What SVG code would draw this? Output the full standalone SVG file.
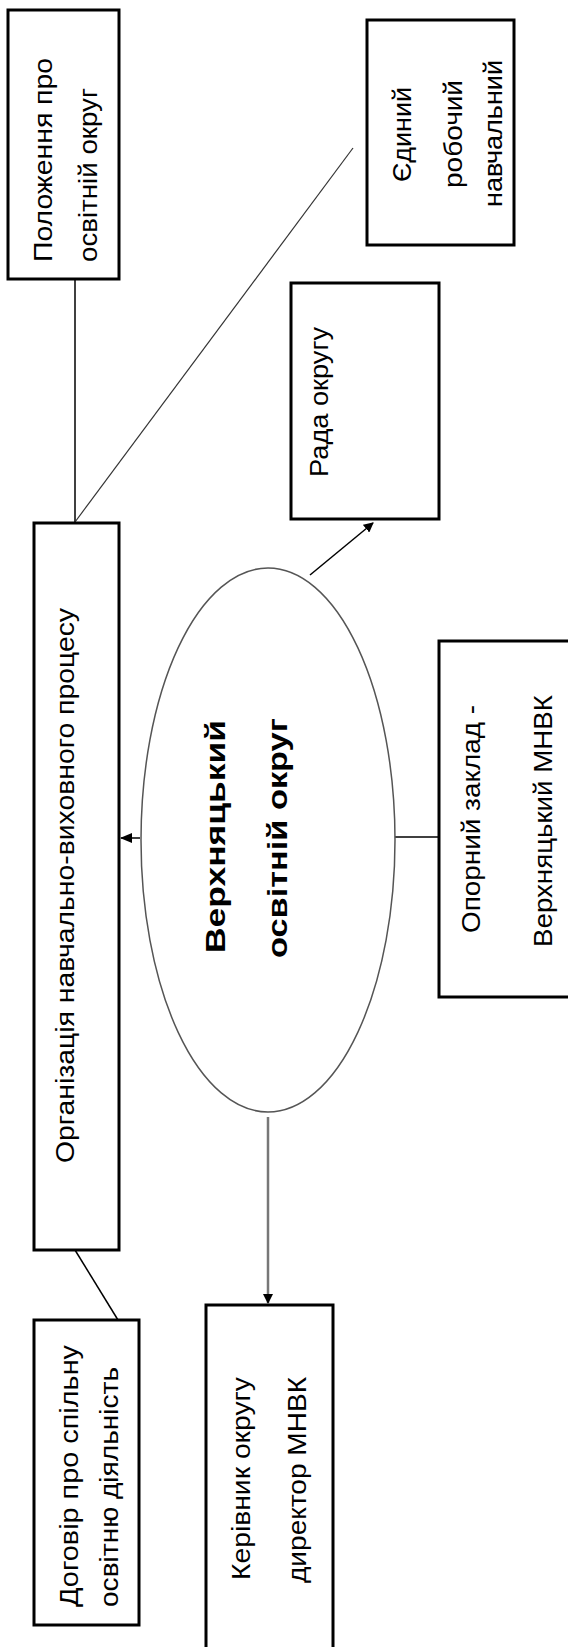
<svg xmlns="http://www.w3.org/2000/svg" width="568" height="1647" viewBox="0 0 568 1647">
<style>
.box{fill:#fff;stroke:#000;stroke-width:3}
.t{font-family:"Liberation Sans",Arial,sans-serif;font-size:26px;fill:#000}
.tb{font-family:"Liberation Sans",Arial,sans-serif;font-size:28px;font-weight:bold;fill:#000}
.ln{stroke:#000;stroke-width:1.5;fill:none}
</style>
<defs>
<marker id="ah" markerWidth="10" markerHeight="10" refX="9" refY="5" orient="auto" markerUnits="userSpaceOnUse">
<path d="M0,0 L10,5 L0,10 z" fill="#000"/>
</marker>
<marker id="ahs" markerWidth="12" markerHeight="10" refX="11" refY="5" orient="auto" markerUnits="userSpaceOnUse">
<path d="M0,0 L12,5 L0,10 z" fill="#000"/>
</marker>
</defs>
<rect width="568" height="1647" fill="#fff"/>
<g id="connectors">
<line class="ln" x1="75" y1="279" x2="75" y2="523"/>
<line x1="75" y1="522" x2="353" y2="148" stroke="#333" stroke-width="1.2"/>
<line class="ln" x1="310" y1="575" x2="373" y2="523" marker-end="url(#ah)"/>
<line class="ln" x1="140" y1="838" x2="121" y2="838" marker-end="url(#ahs)"/>
<line class="ln" x1="394" y1="837" x2="462" y2="837"/>
<line x1="268" y1="1117" x2="268" y2="1303" stroke="#777" stroke-width="2.5" marker-end="url(#ah)"/>
<line class="ln" x1="75" y1="1250" x2="118" y2="1320"/>
</g>
<g id="n-polozhennya">
<rect class="box" x="8" y="10" width="111" height="269"/>
<text class="t" transform="translate(52,262) rotate(-90)" textLength="204" lengthAdjust="spacingAndGlyphs">Положення про</text>
<text class="t" transform="translate(97,262) rotate(-90)" textLength="174" lengthAdjust="spacingAndGlyphs">освітній округ</text>
</g>
<g id="n-yedynyi">
<rect class="box" x="367" y="20" width="147" height="225"/>
<text class="t" transform="translate(411,182) rotate(-90)" textLength="95" lengthAdjust="spacingAndGlyphs">Єдиний</text>
<text class="t" transform="translate(462,188) rotate(-90)" textLength="108" lengthAdjust="spacingAndGlyphs">робочий</text>
<text class="t" transform="translate(502,207) rotate(-90)" textLength="147" lengthAdjust="spacingAndGlyphs">навчальний</text>
</g>
<g id="n-rada">
<rect class="box" x="291" y="283" width="148" height="236"/>
<text class="t" transform="translate(328,477) rotate(-90)" textLength="150" lengthAdjust="spacingAndGlyphs">Рада округу</text>
</g>
<g id="n-orhanizatsiya">
<rect class="box" x="34" y="523" width="85" height="727" stroke-width="2"/>
<text class="t" transform="translate(74,1163) rotate(-90)" textLength="555" lengthAdjust="spacingAndGlyphs">Організація навчально-виховного процесу</text>
</g>
<g id="n-okruh">
<ellipse cx="268" cy="840" rx="127" ry="272" fill="#fff" stroke="#555" stroke-width="1.5"/>
<text class="tb" transform="translate(225,953) rotate(-90)" textLength="233" lengthAdjust="spacingAndGlyphs">Верхняцький</text>
<text class="tb" transform="translate(287,958) rotate(-90)" textLength="240" lengthAdjust="spacingAndGlyphs">освітній округ</text>
</g>
<g id="n-opornyi">
<rect class="box" x="439" y="641" width="140" height="356" stroke-width="2.5"/>
<text class="t" transform="translate(480,933) rotate(-90)" textLength="228" lengthAdjust="spacingAndGlyphs">Опорний заклад -</text>
<text class="t" transform="translate(552,947) rotate(-90)" textLength="252" lengthAdjust="spacingAndGlyphs">Верхняцький МНВК</text>
</g>
<g id="n-kerivnyk">
<rect class="box" x="206" y="1305" width="127" height="360"/>
<text class="t" transform="translate(250,1580) rotate(-90)" textLength="203" lengthAdjust="spacingAndGlyphs">Керівник округу</text>
<text class="t" transform="translate(306,1583) rotate(-90)" textLength="206" lengthAdjust="spacingAndGlyphs">директор МНВК</text>
</g>
<g id="n-dohovir">
<rect class="box" x="34" y="1320" width="105" height="305" stroke-width="2.5"/>
<text class="t" transform="translate(78,1607) rotate(-90)" textLength="262" lengthAdjust="spacingAndGlyphs">Договір про спільну</text>
<text class="t" transform="translate(118,1607) rotate(-90)" textLength="240" lengthAdjust="spacingAndGlyphs">освітню діяльність</text>
</g>
</svg>
